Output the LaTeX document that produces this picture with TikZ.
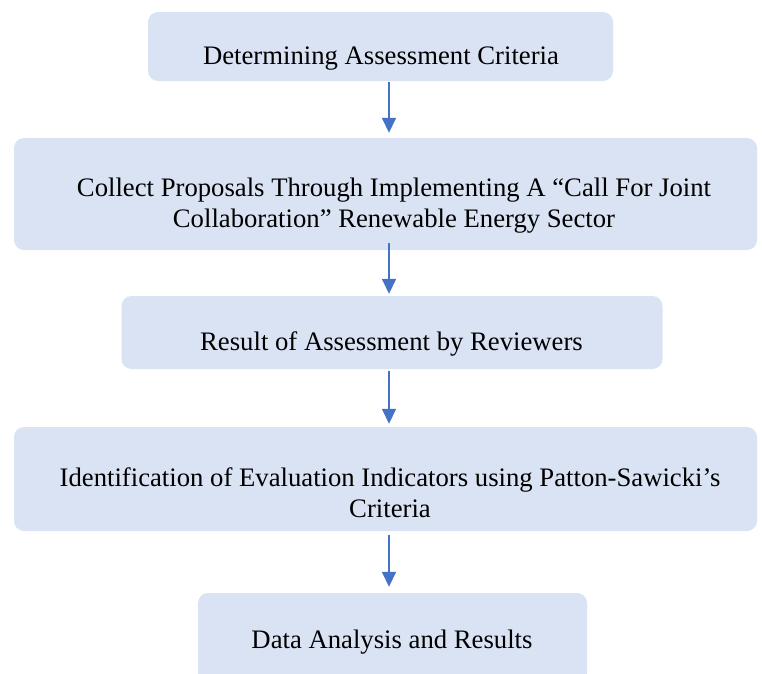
\documentclass[tikz,border=0pt]{standalone}
\usepackage{fontspec}
\setmainfont{Liberation Serif}
\usetikzlibrary{arrows.meta}
\definecolor{boxfill}{HTML}{DAE3F3}
\definecolor{flowblue}{HTML}{4472C4}
\tikzset{>={Triangle[width=14pt,length=15pt]}, % filled triangle tips
  stage/.style={fill=boxfill, rounded corners=10pt, inner sep=0pt},
  caption/.style={align=center, inner sep=0pt,
    font={\fontsize{26.7}{31}\selectfont}},
  flow/.style={->, draw=flowblue, line width=1.6pt},
}

\begin{document}
\begin{tikzpicture}[x=1pt,y=-1pt]
  \useasboundingbox (0,0) rectangle (762,673);
  \clip (0,0) rectangle (762,673);
  \coordinate (spine) at (389,0);

  % the five stages
  \node [stage, minimum width=465pt, minimum height=69pt]  (b1) at (380.5,46.5) {};
  \node [stage, minimum width=743pt, minimum height=112pt] (b2) at (385.5,194) {};
  \node [stage, minimum width=541pt, minimum height=73pt]  (b3) at (392,332.5) {};
  \node [stage, minimum width=743pt, minimum height=104pt] (b4) at (385.5,479) {};
  \node [stage, minimum width=389pt, minimum height=90pt]  (b5) at (392.5,638) {};

  \node [caption] (t1) at (381,58.5) {Determining Assessment Criteria};
  \node [caption] (t2) at (394,206) {Collect Proposals Through Implementing A “Call For Joint\\
    Collaboration” Renewable Energy Sector};
  \node [caption] (t3) at (391.5,344) {Result of Assessment by Reviewers};
  \node [caption] (t4) at (390,493) {Identification of Evaluation Indicators using Patton-Sawicki’s\\
    Criteria};
  \node [caption] (t5) at (392,642.5) {Data Analysis and Results};

  % arrows down the spine
  \draw [flow, shorten <=1pt, shorten >=5pt] (b1.south -| spine) -- (b2.north -| spine);
  \draw [flow, shorten <=-7pt, shorten >=2pt] (b2.south -| spine) -- (b3.north -| spine);
  \draw [flow, shorten <=2pt, shorten >=3pt, xshift=1pt] (b3.south -| spine) -- (b4.north -| spine);
  \draw [flow, shorten <=4pt, shorten >=6pt, xshift=1pt] (b4.south -| spine) -- (b5.north -| spine);
\end{tikzpicture}
\end{document}
